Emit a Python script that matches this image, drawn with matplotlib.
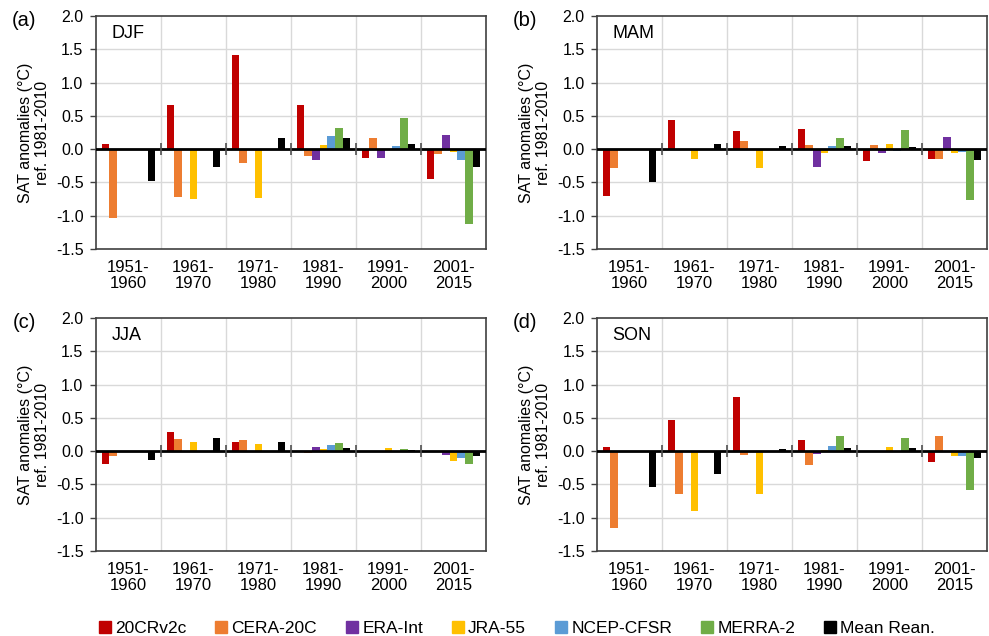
import numpy as np
import matplotlib.pyplot as plt
from matplotlib.lines import Line2D

plt.rcParams['font.family'] = ['Liberation Sans', 'DejaVu Sans']

# Decades and reanalyses
periods = ["1951-\n1960", "1961-\n1970", "1971-\n1980", "1981-\n1990", "1991-\n2000", "2001-\n2015"]
datasets = ["20CRv2c", "CERA-20C", "ERA-Int", "JRA-55", "NCEP-CFSR", "MERRA-2", "Mean Rean."]
colors = ["#C00000", "#ED7D31", "#7030A0", "#FFC000", "#5B9BD5", "#70AD47", "#000000"]

nan = np.nan
# SAT anomalies (°C), rows = period, columns = dataset
djf = [[0.08, -1.04, nan, nan, nan, nan, -0.48],
       [0.66, -0.72, nan, -0.75, nan, nan, -0.27],
       [1.42, -0.21, nan, -0.73, nan, nan, 0.16],
       [0.66, -0.10, -0.17, 0.06, 0.19, 0.32, 0.16],
       [-0.13, 0.16, -0.13, nan, 0.04, 0.47, 0.07],
       [-0.45, -0.08, 0.21, -0.05, -0.16, -1.13, -0.27]]
mam = [[-0.70, -0.29, nan, nan, nan, nan, -0.50],
       [0.44, -0.01, nan, -0.15, nan, nan, 0.08],
       [0.28, 0.12, nan, -0.28, nan, nan, 0.04],
       [0.31, 0.06, -0.27, -0.06, 0.05, 0.16, 0.04],
       [-0.18, 0.06, -0.06, 0.07, -0.03, 0.29, 0.03],
       [-0.15, -0.15, 0.18, -0.06, -0.04, -0.76, -0.16]]
jja = [[-0.19, -0.08, nan, nan, nan, nan, -0.13],
       [0.29, 0.18, nan, 0.14, nan, nan, 0.20],
       [0.14, 0.16, nan, 0.10, nan, nan, 0.14],
       [0.00, -0.03, 0.06, 0.03, 0.09, 0.12, 0.05],
       [-0.01, 0.00, -0.01, 0.05, 0.00, 0.03, 0.02],
       [0.00, 0.00, -0.06, -0.15, -0.11, -0.19, -0.08]]
son = [[0.06, -1.15, nan, nan, nan, nan, -0.54],
       [0.47, -0.65, nan, -0.90, nan, nan, -0.35],
       [0.82, -0.06, nan, -0.65, nan, nan, 0.03],
       [0.17, -0.21, -0.04, 0.02, 0.08, 0.23, 0.04],
       [0.00, 0.00, 0.00, 0.06, 0.00, 0.20, 0.04],
       [-0.17, 0.22, 0.00, -0.07, -0.08, -0.59, -0.11]]

panels = [("(a)", "DJF", djf), ("(b)", "MAM", mam), ("(c)", "JJA", jja), ("(d)", "SON", son)]

W, H = 989, 636
fig = plt.figure(figsize=(W / 100, H / 100), dpi=100)

# axes boxes in pixels: left, top
boxes = [(96, 16), (597, 16), (96, 318), (597, 318)]
aw, ah = 390, 233

n = len(datasets)
width = 1.0 / (n + 1.5)
x = np.arange(len(periods))

for (tag, season, vals), (lx, ty) in zip(panels, boxes):
    ax = fig.add_axes([lx / W, 1 - (ty + ah) / H, aw / W, ah / H])
    vals = np.array(vals)
    for k in range(n):
        ax.bar(x + (k - 3) * width, vals[:, k], width, color=colors[k], zorder=3)
    ax.set_xlim(-0.5, len(periods) - 0.5)
    ax.set_ylim(-1.5, 2.0)
    ax.set_yticks(np.arange(-1.5, 2.01, 0.5))
    ax.set_yticklabels([f"{v:.1f}" for v in np.arange(-1.5, 2.01, 0.5)], fontsize=11.5)
    ax.set_xticks(x)
    ax.set_xticklabels(periods, fontsize=12, linespacing=1.1)
    ax.tick_params(axis='x', length=0, pad=8)
    ax.tick_params(axis='y', length=4, width=1, color='#404040', direction='out', pad=5)
    # gridlines
    for yv in np.arange(-1.0, 2.0, 0.5):
        ax.axhline(yv, color='#d9d9d9', lw=1, zorder=0)
    for xv in np.arange(0.5, len(periods) - 0.5, 1):
        ax.axvline(xv, color='#d9d9d9', lw=1, zorder=0)
    ax.axhline(0, color='black', lw=2, zorder=4)
    ax.plot(np.arange(0.5, len(periods) - 0.5, 1), np.zeros(len(periods) - 1), ls='none',
            marker='|', ms=8, mew=1.2, color='#505050', zorder=4)
    for s in ax.spines.values():
        s.set_color('#404040')
        s.set_linewidth(1.2)
    ax.text(0.04, 0.925, season, transform=ax.transAxes, fontsize=13, va='center', ha='left')
    # panel tag and y-label
    fig.text((lx - 72) / W, 1 - (ty + 4) / H, tag, fontsize=14.5, ha='center', va='center')
    fig.text((lx - 62) / W, 1 - (ty + ah / 2) / H, "SAT anomalies (°C)\nref. 1981-2010",
             rotation=90, fontsize=11.5, ha='center', va='center', linespacing=1.1)

handles = [Line2D([], [], ls='none', marker='s', ms=9, color=c) for c in colors]
fig.legend(handles, datasets, loc='center', bbox_to_anchor=(0.523, 1 - 628 / H), ncol=n,
           frameon=False, fontsize=12.5, handlelength=0.6, handletextpad=0.3, columnspacing=1.7)

fig.savefig("out.png", dpi=100)
